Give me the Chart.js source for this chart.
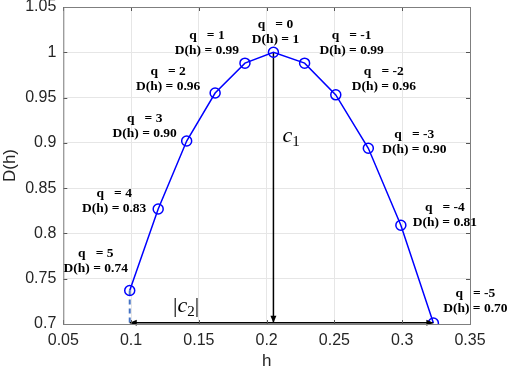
<!DOCTYPE html>
<html>
<head>
<meta charset="utf-8">
<script src="https://cdn.jsdelivr.net/npm/chart.js@4/dist/chart.umd.min.js"></script>
<style>
  html, body { margin:0; padding:0; background:#fff; }
  #wrap { width:510px; height:372px; }
</style>
</head>
<body>
<div id="wrap"><canvas id="c"></canvas></div>
<script>
// values
const hValues = [0.099, 0.120, 0.141, 0.162, 0.184, 0.205, 0.228, 0.251, 0.275, 0.299, 0.323];
const dValues = [0.737, 0.827, 0.902, 0.955, 0.988, 1.000, 0.988, 0.953, 0.894, 0.809, 0.701];
const qValues = [5, 4, 3, 2, 1, 0, -1, -2, -3, -4, -5];
const dLabels = ['0.74', '0.83', '0.90', '0.96', '0.99', '1', '0.99', '0.96', '0.90', '0.81', '0.70'];
const c1Line = [{x:0.205, y:1.0}, {x:0.205, y:0.7015}];
const c2Line = [{x:0.099, y:0.7015}, {x:0.323, y:0.7015}];
const dashLine = [{x:0.099, y:0.737}, {x:0.099, y:0.70}];

// label placement relative to each point (pixels, centre of the D(h) line)
const labelOffsets = [[-34,-22],[-44,0],[-42,-8],[-47,-7],[-38,-13],[2,-13],[47,-13],[48,-8],[46,1],[44,-3],[42,-15]];

const fmtTick = v => parseFloat(v.toFixed(2)).toString();

function arrowHead(ctx, x, y, dir){
  // dir: 'down' | 'left' | 'right'
  const L = 7, W = 3;
  ctx.beginPath();
  if (dir==='down'){ ctx.moveTo(x,y); ctx.lineTo(x-W,y-L); ctx.lineTo(x+W,y-L); }
  if (dir==='left'){ ctx.moveTo(x,y); ctx.lineTo(x+L,y-W); ctx.lineTo(x+L,y+W); }
  if (dir==='right'){ ctx.moveTo(x,y); ctx.lineTo(x-L,y-W); ctx.lineTo(x-L,y+W); }
  ctx.closePath(); ctx.fill();
}

function drawSub(ctx, x, y, parts){
  // parts: [text, font, dy]
  parts.forEach(([t,f,dy])=>{
    ctx.font = f; ctx.fillText(t, x, y+dy); x += ctx.measureText(t).width;
  });
}

const innerTicks = {
  id:'innerTicks',
  afterDraw(chart){
    const {ctx, chartArea:a, scales:{x, y}} = chart;
    ctx.save();
    ctx.strokeStyle = '#555'; ctx.lineWidth = 1;
    x.ticks.forEach(t=>{
      const px = Math.round(x.getPixelForValue(t.value))+0.5;
      ctx.beginPath(); ctx.moveTo(px,a.bottom); ctx.lineTo(px,a.bottom-4); ctx.moveTo(px,a.top); ctx.lineTo(px,a.top+4); ctx.stroke();
    });
    y.ticks.forEach(t=>{
      const py = Math.round(y.getPixelForValue(t.value))+0.5;
      ctx.beginPath(); ctx.moveTo(a.left,py); ctx.lineTo(a.left+4,py); ctx.moveTo(a.right,py); ctx.lineTo(a.right-4,py); ctx.stroke();
    });
    ctx.strokeStyle = '#7f7f7f';
    ctx.strokeRect(a.left+0.5, a.top+0.5, a.right-a.left, a.bottom-a.top);
    ctx.restore();
  }
};

const notes = {
  id:'notes',
  afterDatasetsDraw(chart){
    const {ctx, scales:{x, y}} = chart;
    ctx.save();
    ctx.fillStyle = '#000';
    // arrow heads
    arrowHead(ctx, x.getPixelForValue(c1Line[1].x), y.getPixelForValue(c1Line[1].y), 'down');
    arrowHead(ctx, x.getPixelForValue(c2Line[0].x), y.getPixelForValue(c2Line[0].y), 'left');
    arrowHead(ctx, x.getPixelForValue(c2Line[1].x), y.getPixelForValue(c2Line[1].y), 'right');

    // point labels
    ctx.textAlign = 'center'; ctx.textBaseline = 'middle';
    ctx.font = "bold 13.5px 'Liberation Serif'";
    hValues.forEach((h,i)=>{
      const px = x.getPixelForValue(h) + labelOffsets[i][0];
      const py = y.getPixelForValue(dValues[i]) + labelOffsets[i][1];
      ctx.fillText('q   = ' + qValues[i], px, py-15);
      ctx.fillText('D(h) = ' + dLabels[i], px, py);
    });

    // c1 and |c2|
    ctx.textAlign = 'left'; ctx.textBaseline = 'alphabetic';
    const it = "italic 22px 'Liberation Serif'", sub = "15px 'Liberation Serif'", rm = "22px 'Liberation Serif'";
    drawSub(ctx, x.getPixelForValue(c1Line[0].x)+9, y.getPixelForValue(0.9)-1,
      [['c', it, 0], ['1', sub, 4]]);
    drawSub(ctx, x.getPixelForValue(0.131), y.getPixelForValue(0.7015)-11,
      [['|', rm, 0], ['c', it, 0], ['2', sub, 4], ['|', rm, 0]]);
    ctx.restore();
  }
};

new Chart(document.getElementById('c'), {
  type:'scatter',
  data:{ datasets:[
    {data: hValues.map((h,i)=>({x:h, y:dValues[i]})), showLine:true, borderColor:'#0000ff', borderWidth:1.5,
      pointRadius:5, pointHoverRadius:5, pointBackgroundColor:'rgba(0,0,0,0)', pointBorderColor:'#0000ff', pointBorderWidth:1.5, order:0},
    {data: c1Line, showLine:true, borderColor:'#000', borderWidth:1.5, pointRadius:0, order:1},
    {data: c2Line, showLine:true, borderColor:'#000', borderWidth:1.5, pointRadius:0, order:1},
    {data: dashLine, showLine:true, borderColor:'#4472c4', borderWidth:2, borderDash:[5,4], pointRadius:0, order:1},
  ]},
  options:{
    responsive:true, maintainAspectRatio:false, animation:false,
    layout:{ padding:{ top:7, right:40, left:0, bottom:0 } },
    plugins:{ legend:{display:false}, tooltip:{enabled:false} },
    scales:{
      x:{ type:'linear', min:0.05, max:0.35,
        ticks:{ stepSize:0.05, callback:fmtTick, color:'#262626', font:{family:'Liberation Sans', size:16}, padding:7, maxRotation:0 },
        grid:{ color:'#e6e6e6', drawTicks:false }, border:{ display:false },
        title:{ display:true, text:'h', color:'#262626', font:{family:'Liberation Sans', size:17}, padding:{top:0,bottom:0} },
        afterFit:s=>{ s.height = 48; s.paddingLeft = 0; s.paddingRight = 0; } },
      y:{ type:'linear', min:0.7, max:1.05,
        ticks:{ stepSize:0.05, callback:fmtTick, color:'#262626', font:{family:'Liberation Sans', size:16}, padding:7 },
        grid:{ color:'#e6e6e6', drawTicks:false }, border:{ display:false },
        title:{ display:true, text:'D(h)', color:'#262626', font:{family:'Liberation Sans', size:17}, padding:{top:0,bottom:1} },
        afterFit:s=>{ s.width = 63.3; s.paddingTop = 0; s.paddingBottom = 0; } }
    }
  },
  plugins:[innerTicks, notes]
});
</script>
</body>
</html>
